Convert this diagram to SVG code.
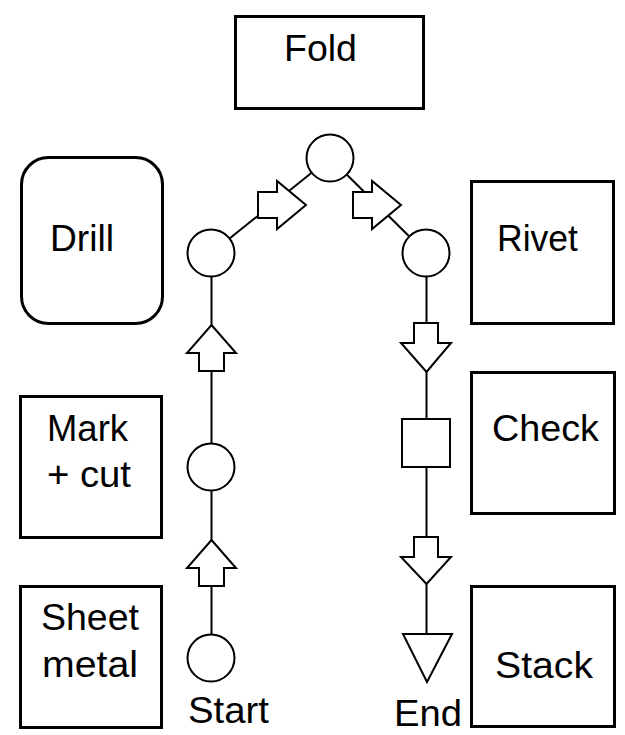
<svg xmlns="http://www.w3.org/2000/svg" width="625" height="735" viewBox="0 0 625 735">
<style>
.box{fill:#fff;stroke:#000;stroke-width:3}
.sym{fill:#fff;stroke:#000;stroke-width:2}
.ln{fill:none;stroke:#000;stroke-width:2}
.t{font-family:"Liberation Sans",Arial,sans-serif;font-size:37px;fill:#000}
</style>
<rect width="625" height="735" fill="#fff"/>
<g id="fold"><rect class="box" x="235.5" y="16.5" width="188" height="92"/><text class="t" x="284" y="61" textLength="73" lengthAdjust="spacingAndGlyphs">Fold</text></g>
<g id="drill"><rect class="box" x="21.5" y="157.5" width="141" height="166" rx="27"/><text class="t" x="50" y="251" textLength="64" lengthAdjust="spacingAndGlyphs">Drill</text></g>
<g id="rivet"><rect class="box" x="471.5" y="181.5" width="142" height="142"/><text class="t" x="497" y="251" textLength="81" lengthAdjust="spacingAndGlyphs">Rivet</text></g>
<g id="markcut"><rect class="box" x="20.5" y="396.5" width="141" height="141"/><text class="t" x="47" y="441" textLength="81" lengthAdjust="spacingAndGlyphs">Mark</text><text class="t" x="47" y="487" textLength="84" lengthAdjust="spacingAndGlyphs">+ cut</text></g>
<g id="check"><rect class="box" x="471.5" y="372.5" width="143" height="141"/><text class="t" x="492" y="441" textLength="107" lengthAdjust="spacingAndGlyphs">Check</text></g>
<g id="sheetmetal"><rect class="box" x="20.5" y="586.5" width="141" height="141"/><text class="t" x="41" y="630" textLength="98" lengthAdjust="spacingAndGlyphs">Sheet</text><text class="t" x="42" y="677" textLength="96" lengthAdjust="spacingAndGlyphs">metal</text></g>
<g id="stack"><rect class="box" x="471.5" y="586.5" width="143" height="140"/><text class="t" x="495" y="678" textLength="98" lengthAdjust="spacingAndGlyphs">Stack</text></g>
<g id="connectors">
<line class="ln" x1="211.5" y1="634" x2="211.5" y2="277"/>
<line class="ln" x1="211.5" y1="253" x2="330" y2="158"/>
<line class="ln" x1="330" y1="158" x2="426" y2="253"/>
<line class="ln" x1="426.5" y1="277" x2="426.5" y2="634"/>
</g>
<g id="start"><circle class="sym" cx="211" cy="658" r="23.5"/><text class="t" x="188" y="723" textLength="81" lengthAdjust="spacingAndGlyphs">Start</text></g>
<g id="arrow-up-2"><polygon class="sym" points="211.5,540 236,568 224,568 224,586 199,586 199,568 187,568"/></g>
<g id="op-markcut"><circle class="sym" cx="211" cy="467" r="23.5"/></g>
<g id="arrow-up-1"><polygon class="sym" points="211.5,325 236,353 224,353 224,371 199,371 199,353 187,353"/></g>
<g id="op-drill"><circle class="sym" cx="211" cy="253" r="23.5"/></g>
<g id="arrow-diag-1"><polygon class="sym" points="258,192 277,192 277,181 306,205 277,229 277,218 258,218"/></g>
<g id="op-fold"><circle class="sym" cx="330" cy="158" r="23.5"/></g>
<g id="arrow-diag-2"><polygon class="sym" points="353,192 372,192 372,181 401,205 372,229 372,218 353,218"/></g>
<g id="op-rivet"><circle class="sym" cx="426" cy="253" r="23.5"/></g>
<g id="arrow-down-1"><polygon class="sym" points="414,323 438,323 438,343 451,343 426.5,372 401,343 414,343"/></g>
<g id="inspect"><rect class="sym" x="402" y="419" width="48" height="48"/></g>
<g id="arrow-down-2"><polygon class="sym" points="414,537 438,537 438,557 451,557 426.5,584 401,557 414,557"/></g>
<g id="end"><polygon class="sym" points="403,634 452,634 427,682"/><text class="t" x="394" y="726" textLength="68" lengthAdjust="spacingAndGlyphs">End</text></g>
</svg>
